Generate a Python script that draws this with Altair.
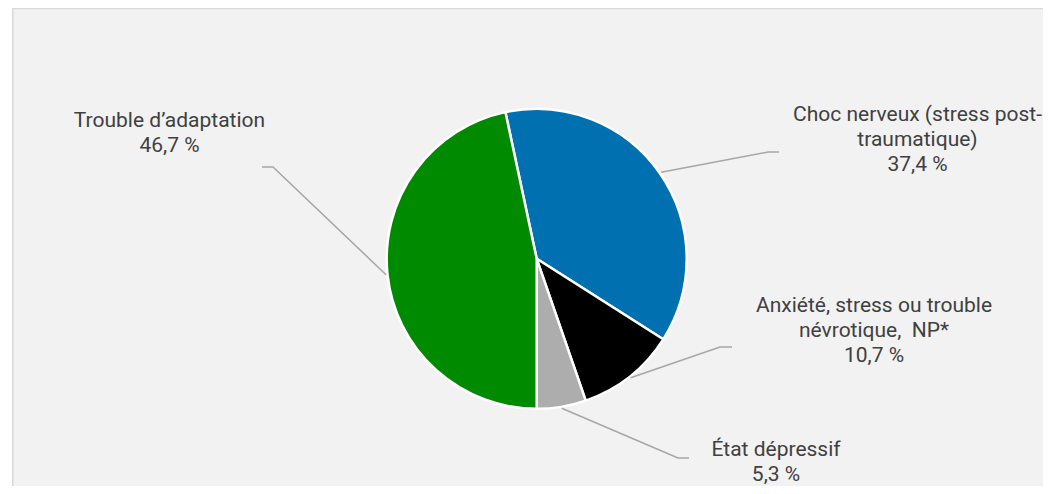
import math
import altair as alt
import pandas as pd

# ---- data ----
categories = [
    "Choc nerveux (stress post-traumatique)",
    "Anxiété, stress ou trouble névrotique, NP*",
    "État dépressif",
    "Trouble d’adaptation",
]
values = [37.4, 10.7, 5.3, 46.7]
label_lines = [
    ["Choc nerveux (stress post-", "traumatique)"],
    ["Anxiété, stress ou trouble", "névrotique,\u00a0 NP*"],
    ["État dépressif"],
    ["Trouble d’adaptation"],
]
colors = ["#0070b0", "#000000", "#adadad", "#008a00"]

# ---- layout (plot-area pixels; plot area starts at page x=12, y=8) ----
W, H = 1031, 478
CX, CY, R = 524.7, 250.8, 150
START_DEG = -12.05
label_pos = [(905.5, 113), (862, 304), (764, 448), (157.5, 119)]
elbow = [(756, 144), (708, 339), (666, 450), (261, 159)]
tail = [(767, 144), (720, 339), (677, 450), (250, 159)]

total = sum(values)
s_rad = math.radians(START_DEG)

pie_df = pd.DataFrame({
    "category": categories,
    "value": values,
    "order": list(range(len(values))),
})

# leader lines: start at the mid-angle of each slice on the pie edge
rows = []
cum = 0.0
for i, v in enumerate(values):
    mid = s_rad + 2 * math.pi * (cum + v / 2) / total
    cum += v
    px = CX + (R + 1.5) * math.sin(mid)
    py = CY - (R + 1.5) * math.cos(mid)
    rows.append({"id": i, "idx": 0, "x": px, "y": py})
    rows.append({"id": i, "idx": 1, "x": elbow[i][0], "y": elbow[i][1]})
    rows.append({"id": i, "idx": 2, "x": tail[i][0], "y": tail[i][1]})
lines_df = pd.DataFrame(rows)

text_df = pd.DataFrame({
    "x": [p[0] for p in label_pos],
    "y": [p[1] for p in label_pos],
    "text": ["\n".join(lines + [f"{v:.1f}".replace(".", ",") + " %"])
             for lines, v in zip(label_lines, values)],
})

xs = alt.Scale(domain=[0, W], nice=False, zero=False)
ys = alt.Scale(domain=[0, H], reverse=True, nice=False, zero=False)

one = pd.DataFrame({"a": [0]})
top_border = alt.Chart(one).mark_rule(color="#d9d9d9", strokeWidth=1.5).encode(
    x=alt.value(0), x2=alt.value(W), y=alt.value(0.5))
left_border = alt.Chart(one).mark_rule(color="#d9d9d9", strokeWidth=1.5).encode(
    x=alt.value(0.75), y=alt.value(0), y2=alt.value(H))

pie = alt.Chart(pie_df).mark_arc(stroke="white", strokeWidth=2.5).encode(
    theta=alt.Theta("value:Q", stack=True,
                    scale=alt.Scale(range=[s_rad + 2 * math.pi, s_rad + 4 * math.pi])),
    color=alt.Color("category:N", scale=alt.Scale(domain=categories, range=colors), legend=None),
    order=alt.Order("order:Q"),
    x=alt.value(CX),
    y=alt.value(CY),
    radius=alt.value(R),
)

leaders = alt.Chart(lines_df).mark_line(color="#a6a6a6", strokeWidth=1.5).encode(
    x=alt.X("x:Q", scale=xs, axis=None),
    y=alt.Y("y:Q", scale=ys, axis=None),
    detail="id:N",
    order="idx:Q",
)

labels = alt.Chart(text_df).mark_text(
    align="center", baseline="alphabetic", lineBreak="\n", lineHeight=25,
    font="Roboto", fontSize=21, color="#404040",
).encode(
    x=alt.X("x:Q", scale=xs, axis=None),
    y=alt.Y("y:Q", scale=ys, axis=None),
    text="text:N",
)

chart = alt.layer(top_border, left_border, pie, leaders, labels).properties(
    width=W, height=H,
    padding={"left": 4, "top": 0, "right": 0, "bottom": 0},
    autosize=alt.AutoSizeParams(type="none"),
    background="white",
).configure_view(fill="#f2f2f2", stroke=None)

chart.save("out.html", embed_options={"renderer": "svg", "actions": False})
